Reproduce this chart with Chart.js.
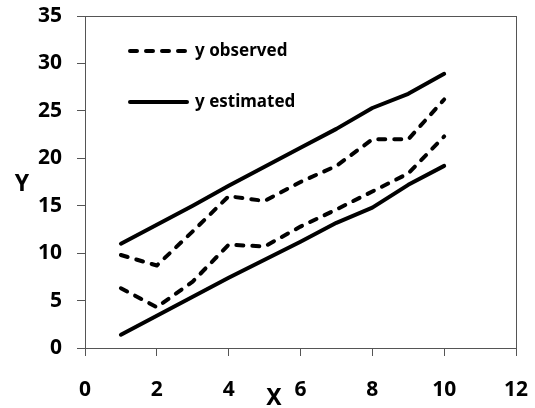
<!DOCTYPE html>
<html>
<head>
<meta charset="utf-8">
<script src="https://cdn.jsdelivr.net/npm/chart.js@4/dist/chart.umd.min.js"></script>
<style>
  html, body { margin: 0; padding: 0; background: #fff; }
  #wrap { width: 535px; height: 408px; }
</style>
</head>
<body>
<div id="wrap"><canvas id="chart" width="535" height="408"></canvas></div>
<script>
// values
const xValues = [1, 2, 3, 4, 5, 6, 7, 8, 9, 10];
const obsUpper = [9.8, 8.7, 12.3, 16.0, 15.5, 17.5, 19.2, 22.0, 22.0, 26.2];
const obsLower = [6.3, 4.3, 7.0, 10.9, 10.7, 12.8, 14.6, 16.5, 18.4, 22.3];
const estUpper = [11.0, 13.0, 15.0, 17.1, 19.1, 21.1, 23.1, 25.3, 26.8, 28.9];
const estLower = [1.4, 3.4, 5.4, 7.4, 9.3, 11.2, 13.2, 14.8, 17.2, 19.2];
const legendLabels = ['y observed', 'y estimated'];
const xTitle = 'X', yTitle = 'Y';

const pts = ys => xValues.map((x, i) => ({ x: x, y: ys[i] }));
const DASH = [7, 9];
const FONT = '"Noto Sans", Lato, sans-serif';

function series(label, ys, dashed) {
  return {
    label: label, data: pts(ys),
    borderColor: '#000', borderWidth: 4,
    borderDash: dashed ? DASH : [],
    borderCapStyle: 'round', borderJoinStyle: 'round',
    pointRadius: 0, tension: 0, fill: false
  };
}

// frame + axis titles + legend drawn inside the plot
const extras = {
  id: 'extras',
  beforeDatasetsDraw(chart) {
    const { ctx, chartArea: a } = chart;
    ctx.save();
    ctx.strokeStyle = '#555'; ctx.lineWidth = 1;
    ctx.strokeRect(a.left + 0.5, a.top + 0.5, a.right - a.left, a.bottom - a.top);
    ctx.restore();
  },
  afterDraw(chart) {
    const ctx = chart.ctx;
    ctx.save();
    ctx.fillStyle = '#000';
    ctx.font = 'bold 23px ' + FONT;
    ctx.textAlign = 'center'; ctx.textBaseline = 'middle';
    ctx.fillText(yTitle, 22, 184);
    ctx.fillText(xTitle, 274, 398);

    // legend
    const rows = [{ y: 51, dash: DASH, text: legendLabels[0] }, { y: 102, dash: [], text: legendLabels[1] }];
    rows.forEach(r => {
      ctx.beginPath();
      ctx.setLineDash(r.dash);
      ctx.lineWidth = 4; ctx.lineCap = 'round'; ctx.strokeStyle = '#000';
      ctx.moveTo(130, r.y); ctx.lineTo(187, r.y);
      ctx.stroke();
      ctx.setLineDash([]);
      ctx.font = 'bold 17px ' + FONT;
      ctx.textAlign = 'left';
      ctx.fillText(r.text, 195, r.y);
    });
    ctx.restore();
  }
};

new Chart(document.getElementById('chart'), {
  type: 'line',
  data: {
    datasets: [
      series(legendLabels[0], obsUpper, true),
      series(legendLabels[0], obsLower, true),
      series(legendLabels[1], estUpper, false),
      series(legendLabels[1], estLower, false)
    ]
  },
  options: {
    responsive: false, animation: false,
    layout: { padding: { top: 16, right: 19, left: 0, bottom: 0 } },
    plugins: { legend: { display: false }, tooltip: { enabled: false } },
    scales: {
      x: {
        type: 'linear', min: 0, max: 12,
        afterFit: s => { s.height = 60; s.paddingLeft = 0; s.paddingRight = 0; },
        ticks: { stepSize: 2, color: '#000', padding: 21, font: { family: FONT, size: 21, weight: 'bold' } },
        grid: { display: true, drawOnChartArea: false, tickLength: 8, color: '#555' },
        border: { display: true, color: '#555', width: 1 }
      },
      y: {
        min: 0, max: 35,
        afterFit: s => { s.width = 85; s.paddingTop = 0; s.paddingBottom = 0; },
        ticks: { stepSize: 5, color: '#000', padding: 15, font: { family: FONT, size: 21, weight: 'bold' } },
        grid: { display: true, drawOnChartArea: false, tickLength: 8, color: '#555' },
        border: { display: true, color: '#555', width: 1 }
      }
    }
  },
  plugins: [extras]
});
</script>
</body>
</html>
